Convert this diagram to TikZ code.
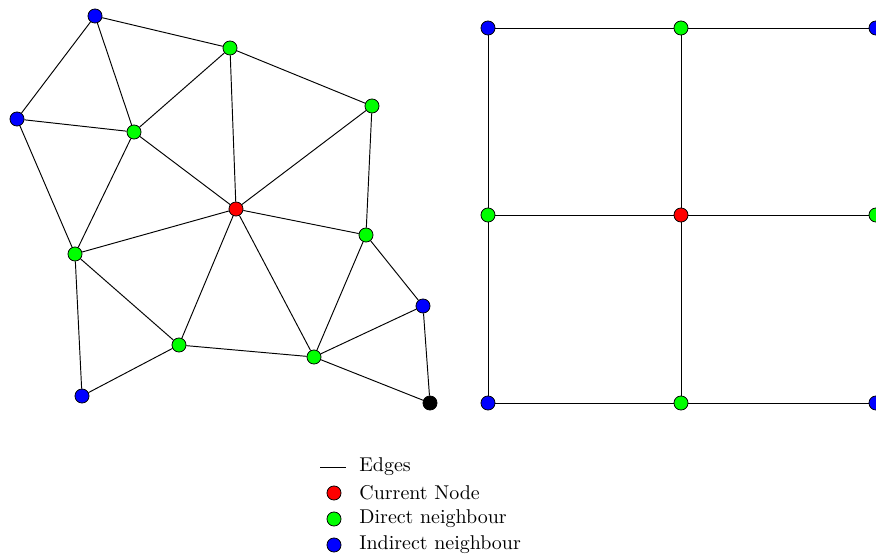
\documentclass[tikz,border=0pt]{standalone}
\begin{document}
\begin{tikzpicture}[x=0.526pt,y=-0.526pt,
  vtx/.style={circle,draw=black,inner sep=0pt,minimum size=7.4pt,line width=0.4pt},
  cur/.style={vtx,fill=red},
  dir/.style={vtx,fill=green},
  ind/.style={vtx,fill=blue},
  oth/.style={vtx,fill=black},
  edge/.style={draw=black,line width=0.5pt},
  lab/.style={anchor=west,inner sep=0pt,font=\fontsize{10.5}{12}\selectfont}]
\useasboundingbox (0,0) rectangle (876,555);
% left graph
\node[ind] (A) at (95,16) {};
\node[dir] (B) at (230,48) {};
\node[dir] (C) at (372,106) {};
\node[ind] (D) at (17,119) {};
\node[dir] (E) at (134,132) {};
\node[cur] (F) at (236,209) {};
\node[dir] (G) at (366,235) {};
\node[dir] (H) at (75,254) {};
\node[ind] (I) at (423,306) {};
\node[dir] (J) at (179,345) {};
\node[dir] (K) at (314,357) {};
\node[ind] (L) at (82,396) {};
\node[oth] (M) at (430,403) {};
\foreach \a/\b in {A/B,A/D,A/E,D/E,E/B,B/C,B/F,C/F,C/G,E/F,D/H,E/H,H/F,F/G,F/J,F/K,H/J,H/L,L/J,J/K,K/G,G/I,K/I,K/M,I/M}
  \draw[edge] (\a) -- (\b);
% right grid
\node[ind] (g11) at (488,28) {};
\node[dir] (g12) at (681,28) {};
\node[ind] (g13) at (876,28) {};
\node[dir] (g21) at (488,215) {};
\node[cur] (g22) at (681,215) {};
\node[dir] (g23) at (876,215) {};
\node[ind] (g31) at (488,403) {};
\node[dir] (g32) at (681,403) {};
\node[ind] (g33) at (876,403) {};
\foreach \a/\b in {g11/g12,g12/g13,g21/g22,g22/g23,g31/g32,g32/g33,g11/g21,g21/g31,g12/g22,g22/g32,g13/g23,g23/g33}
  \draw[edge] (\a) -- (\b);
% legend
\coordinate (l1) at (320,467);
\coordinate (l2) at (346,467);
\draw[edge] (l1) -- (l2);
\node[lab] (t1) at (359,467) {Edges};
\node[cur] (c2) at (334,493) {};
\node[lab] (t2) at (359,493) {Current Node};
\node[dir] (c3) at (334,519) {};
\node[lab] (t3) at (359,519) {Direct neighbour};
\node[ind] (c4) at (334,545) {};
\node[lab] (t4) at (359,545) {Indirect neighbour};
\end{tikzpicture}
\end{document}
